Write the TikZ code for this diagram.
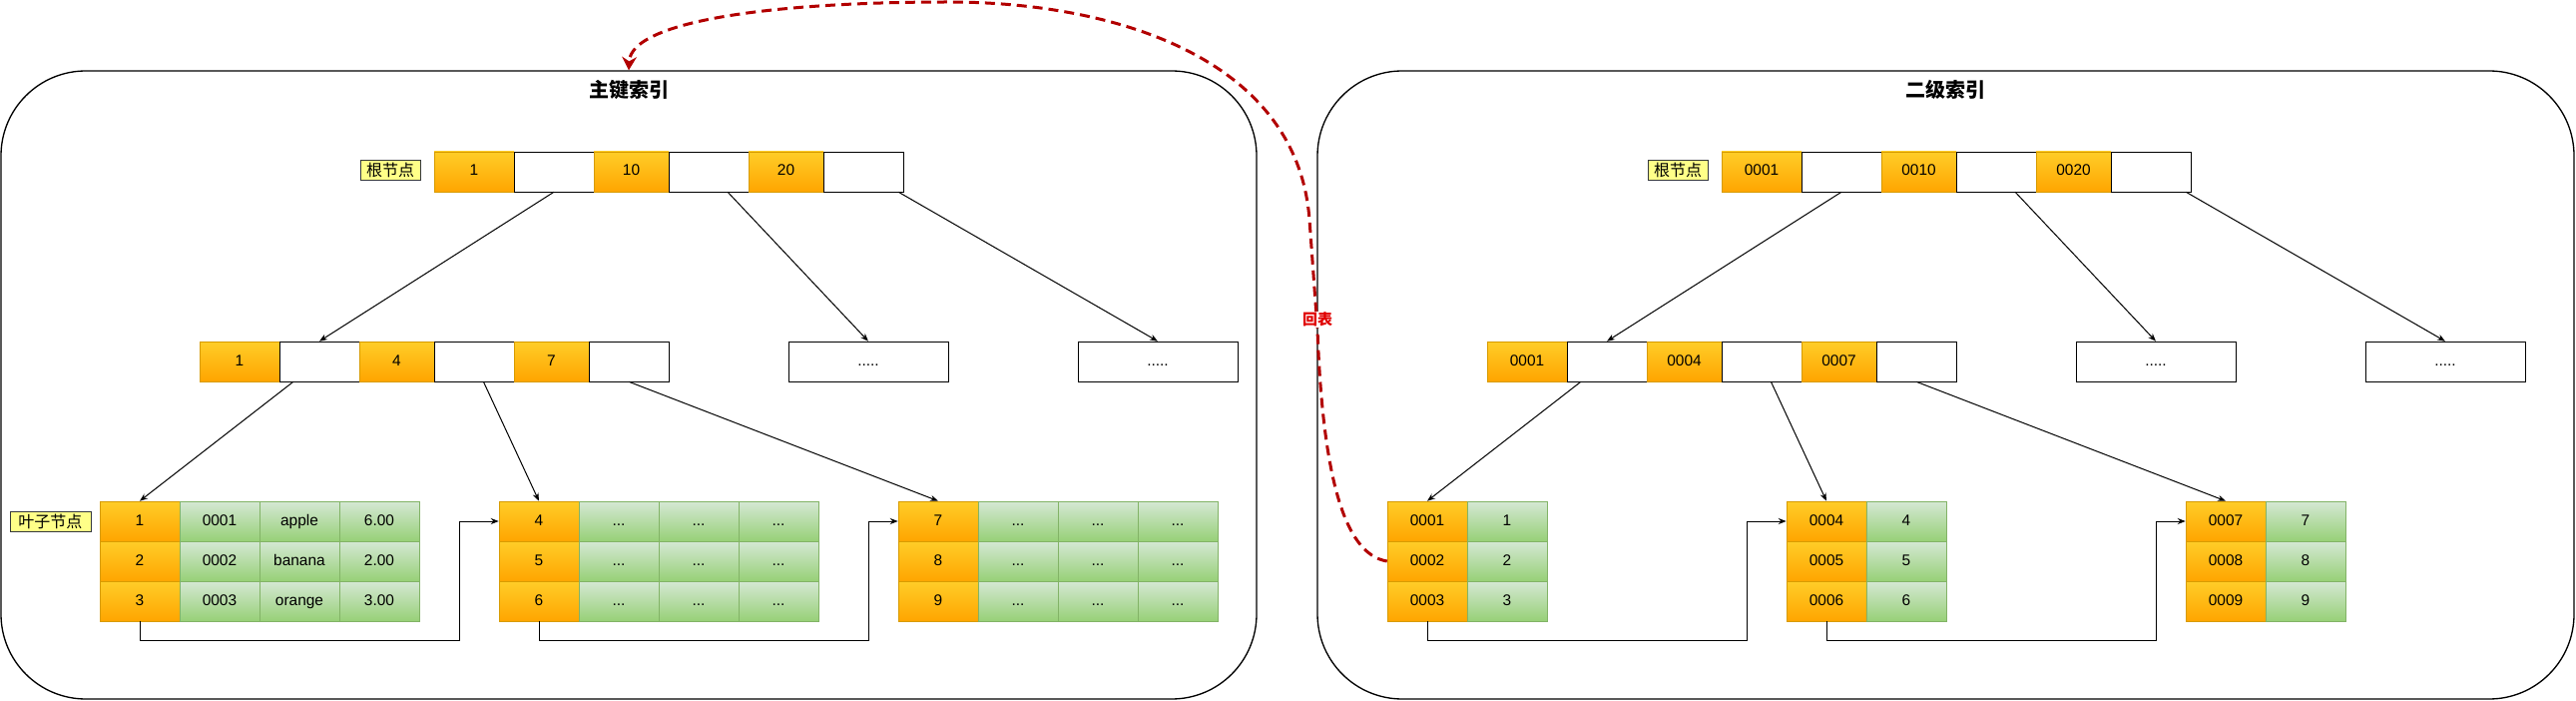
\documentclass[tikz,border=0pt]{standalone}
\usepackage{fontspec}
\setmainfont{Liberation Sans}
\newfontfamily\cjk{Noto Sans CJK SC}
\usetikzlibrary{arrows.meta}

\definecolor{keytop}{HTML}{FFCD28}
\definecolor{keybot}{HTML}{FFA500}
\definecolor{keyline}{HTML}{D79B00}
\definecolor{valtop}{HTML}{D5E8D4}
\definecolor{valbot}{HTML}{97D077}
\definecolor{valline}{HTML}{82B366}
\definecolor{tagfill}{HTML}{FFFF88}
\definecolor{tagline}{HTML}{36393D}
\definecolor{backred}{HTML}{B20000}
\definecolor{backtext}{HTML}{E00000}
\newcommand{\cellfont}{\fontsize{11.6}{13}\selectfont}

\begin{document}
\begin{tikzpicture}
	[x=0.75pt, y=-0.75pt,
	 keycell/.style={draw=keyline, top color=keytop, bottom color=keybot, minimum width=60pt, minimum height=30pt, inner sep=0pt, text height=8.4pt, text depth=2.4pt, font=\cellfont},
	 valcell/.style={draw=valline, top color=valtop, bottom color=valbot, minimum width=60pt, minimum height=30pt, inner sep=0pt, text height=8.4pt, text depth=2.4pt, font=\cellfont},
	 ptrcell/.style={draw=black, fill=white, minimum width=60pt, minimum height=30pt, inner sep=0pt, text height=8.4pt, text depth=2.4pt, font=\cellfont},
	 tag/.style={draw=tagline, fill=tagfill, minimum height=15pt, inner sep=0pt, font=\cjk\fontsize{12}{14}\selectfont},
	 frame/.style={draw=black, line width=1pt, rounded corners=63.75pt, inner sep=0pt},
	 title/.style={font=\cjk\bfseries\fontsize{15}{18}\selectfont},
	 edge/.style={-{Stealth[length=6pt,width=4.5pt]}, line width=0.75pt},
	 back/.style={draw=backred, line width=2.25pt, dash pattern=on 7.5pt off 4.5pt},
	 backlabel/.style={fill=white, text=backtext, inner sep=1pt, font=\cjk\bfseries\fontsize{11.25}{13}\selectfont}]

	\useasboundingbox (0,0) rectangle (2581,702);

	%Frames
	\node[frame, minimum width=943.5pt, minimum height=471.75pt] (pkframe) at (630,385.5) {};
	\node[frame, minimum width=944.25pt, minimum height=471.75pt] (skframe) at (1949.5,385.5) {};
	\node[title] (pktitle) at (630,90) {主键索引};
	\node[title] (sktitle) at (1949.5,90) {二级索引};

	%Primary index: root
	\node[tag, minimum width=45pt] (prtag) at (391,170) {根节点};
	\node[keycell] (pr1) at (475,172) {1};
	\node[ptrcell] (pr1p) at (555,172) {};
	\node[keycell, minimum width=56.25pt] (pr2) at (632.5,172) {10};
	\node[ptrcell] (pr2p) at (710,172) {};
	\node[keycell, minimum width=56.25pt] (pr3) at (787.5,172) {20};
	\node[ptrcell] (pr3p) at (865,172) {};

	%Primary index: inner nodes
	\node[keycell] (pm1) at (240,362) {1};
	\node[ptrcell] (pm1p) at (320,362) {};
	\node[keycell, minimum width=56.25pt] (pm2) at (397.5,362) {4};
	\node[ptrcell] (pm2p) at (475,362) {};
	\node[keycell, minimum width=56.25pt] (pm3) at (552.5,362) {7};
	\node[ptrcell] (pm3p) at (630,362) {};
	\node[ptrcell, minimum width=120pt] (pd1) at (870,362) {.....};
	\node[ptrcell, minimum width=120pt] (pd2) at (1160,362) {.....};

	%Primary index: leaves
	\node[tag, minimum width=60.75pt] (pltag) at (50.5,522) {叶子节点};
	\foreach \r/\k/\a/\b/\c in {1/1/0001/apple/6.00, 2/2/0002/banana/2.00, 3/3/0003/orange/3.00}
	{
		\node[keycell] (pa\r) at (140,{482+40*\r}) {\k};
		\node[valcell] at (220,{482+40*\r}) {\a};
		\node[valcell] at (300,{482+40*\r}) {\b};
		\node[valcell] at (380,{482+40*\r}) {\c};
	}
	\foreach \r/\k in {1/4, 2/5, 3/6}
	{
		\node[keycell] (pb\r) at (540,{482+40*\r}) {\k};
		\foreach \x in {620,700,780}
			\node[valcell] at (\x,{482+40*\r}) {...};
	}
	\foreach \r/\k in {1/7, 2/8, 3/9}
	{
		\node[keycell] (pc\r) at (940,{482+40*\r}) {\k};
		\foreach \x in {1020,1100,1180}
			\node[valcell] at (\x,{482+40*\r}) {...};
	}

	\draw[edge] (pr1p.south) -- (pm1p.north);
	\draw[edge] (pr2p) -- (pd1.north);
	\draw[edge] (pr3p) -- (pd2.north);
	\draw[edge] (pm1p) -- (pa1.north);
	\draw[edge] (pm2p) -- (pb1.north);
	\draw[edge] (pm3p.south) -- (pc1.north);
	\draw[edge] (pa3.south) |- (460,641) |- (pb1.west);
	\draw[edge] (pb3.south) |- (870,641) |- (pc1.west);

	%Secondary index: root
	\node[tag, minimum width=45pt] (srtag) at (1681,170) {根节点};
	\node[keycell] (sr1) at (1765,172) {0001};
	\node[ptrcell] (sr1p) at (1845,172) {};
	\node[keycell, minimum width=56.25pt] (sr2) at (1922.5,172) {0010};
	\node[ptrcell] (sr2p) at (2000,172) {};
	\node[keycell, minimum width=56.25pt] (sr3) at (2077.5,172) {0020};
	\node[ptrcell] (sr3p) at (2155,172) {};

	%Secondary index: inner nodes
	\node[keycell] (sm1) at (1530,362) {0001};
	\node[ptrcell] (sm1p) at (1610,362) {};
	\node[keycell, minimum width=56.25pt] (sm2) at (1687.5,362) {0004};
	\node[ptrcell] (sm2p) at (1765,362) {};
	\node[keycell, minimum width=56.25pt] (sm3) at (1842.5,362) {0007};
	\node[ptrcell] (sm3p) at (1920,362) {};
	\node[ptrcell, minimum width=120pt] (sd1) at (2160,362) {.....};
	\node[ptrcell, minimum width=120pt] (sd2) at (2450,362) {.....};

	%Secondary index: leaves
	\foreach \r/\k/\v in {1/0001/1, 2/0002/2, 3/0003/3}
	{
		\node[keycell] (sa\r) at (1430,{482+40*\r}) {\k};
		\node[valcell] at (1510,{482+40*\r}) {\v};
	}
	\foreach \r/\k/\v in {1/0004/4, 2/0005/5, 3/0006/6}
	{
		\node[keycell] (sb\r) at (1830,{482+40*\r}) {\k};
		\node[valcell] at (1910,{482+40*\r}) {\v};
	}
	\foreach \r/\k/\v in {1/0007/7, 2/0008/8, 3/0009/9}
	{
		\node[keycell] (sc\r) at (2230,{482+40*\r}) {\k};
		\node[valcell] at (2310,{482+40*\r}) {\v};
	}

	\draw[edge] (sr1p.south) -- (sm1p.north);
	\draw[edge] (sr2p) -- (sd1.north);
	\draw[edge] (sr3p) -- (sd2.north);
	\draw[edge] (sm1p) -- (sa1.north);
	\draw[edge] (sm2p) -- (sb1.north);
	\draw[edge] (sm3p.south) -- (sc1.north);
	\draw[edge] (sa3.south) |- (1750,641) |- (sb1.west);
	\draw[edge] (sb3.south) |- (2160,641) |- (sc1.west);

	%Back to table
	\draw[back, -{Stealth[length=10pt,width=11pt]}] (sa2.west) .. controls (1345,555) and (1325,470) .. (1320,330) -- (1312,220) .. controls (1300,60) and (1120,2) .. (950,2) .. controls (780,2) and (632,20) .. (pkframe.north);
	\node[backlabel] (huibiao) at (1320,320) {回表};
\end{tikzpicture}
\end{document}
